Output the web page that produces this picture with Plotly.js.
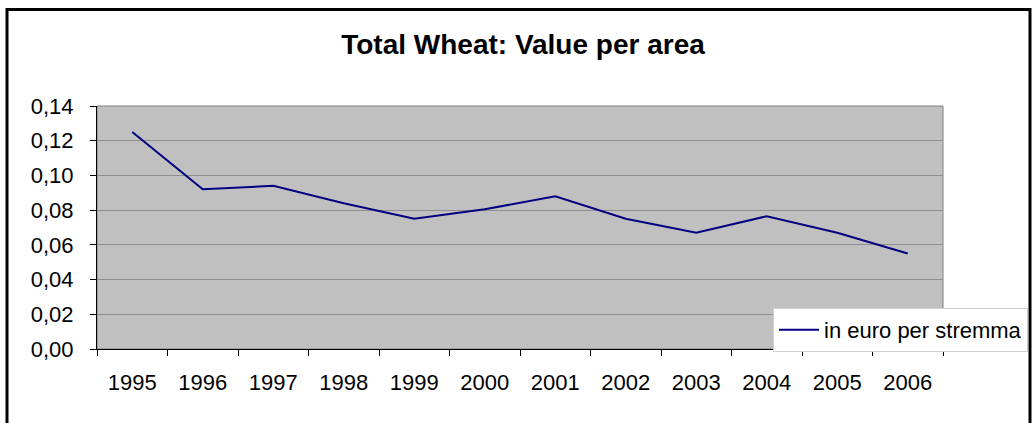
<!DOCTYPE html>
<html>
<head>
<meta charset="utf-8">
<script src="https://cdn.plot.ly/plotly-3.0.1.min.js"></script>
<style>
  html, body { margin: 0; padding: 0; background: #ffffff; }
  #chart { width: 1032px; height: 423px; }
</style>
</head>
<body>
<div id="chart"></div>
<script>
// ---- data ----
const years = ["1995","1996","1997","1998","1999","2000","2001","2002","2003","2004","2005","2006"];
const valuePerArea = [0.125, 0.092, 0.094, 0.084, 0.075, 0.0805, 0.088, 0.075, 0.067, 0.0765, 0.067, 0.055];
const seriesName = "in euro per stremma";
const chartTitle = "Total Wheat: Value per area";
const yTicks = [0, 0.02, 0.04, 0.06, 0.08, 0.10, 0.12, 0.14];

const FONT = "Liberation Sans, Arial, sans-serif";

const trace = {
  x: years,
  y: valuePerArea,
  type: "scatter",
  mode: "lines",
  name: seriesName,
  line: { color: "#000080", width: 2 },
  showlegend: true,
  hoverinfo: "x+y"
};

const layout = {
  width: 1032,
  height: 423,
  separators: ",.",
  paper_bgcolor: "#ffffff",
  plot_bgcolor: "#c0c0c0",
  margin: { l: 97, r: 89, t: 106, b: 74, autoexpand: false },
  font: { family: FONT, color: "#000000", size: 22 },
  title: {
    text: chartTitle,
    font: { family: FONT, size: 28, weight: "bold", color: "#000000" },
    x: (523 - 97) / 846, xanchor: "center",
    y: 1 - 44 / 423, yanchor: "middle",
    xref: "paper", yref: "container"
  },
  xaxis: {
    type: "category",
    range: [-0.5, 11.5],
    tickson: "boundaries",
    ticks: "outside",
    ticklen: 6,
    tickcolor: "#000000",
    tickwidth: 1,
    showgrid: false,
    showline: true,
    linecolor: "#000000",
    linewidth: 1,
    zeroline: false,
    ticklabelstandoff: 14,
    tickfont: { family: FONT, size: 22, color: "#000000" },
    fixedrange: true
  },
  yaxis: {
    range: [0, 0.14],
    tickvals: yTicks,
    tickformat: ".2f",
    ticks: "outside",
    ticklen: 6,
    tickcolor: "#000000",
    tickwidth: 1,
    showgrid: true,
    gridcolor: "#8f8f8f",
    gridwidth: 1,
    showline: true,
    linecolor: "#000000",
    linewidth: 1,
    zeroline: false,
    ticklabelstandoff: 12,
    tickfont: { family: FONT, size: 22, color: "#000000" },
    fixedrange: true
  },
  showlegend: true,
  legend: {
    x: (773 - 97) / 846,
    xanchor: "left",
    y: (349 - 308) / 243.3,
    yanchor: "top",
    bgcolor: "#ffffff",
    bordercolor: "#d0d0d0",
    borderwidth: 1,
    font: { family: FONT, size: 22, color: "#000000" },
    itemwidth: 40
  },
  shapes: [
    // plot area border (top/right in gray)
    { type: "rect", xref: "paper", yref: "paper", x0: 0, x1: 1, y0: 0, y1: 1,
      line: { color: "#808080", width: 1 }, fillcolor: "rgba(0,0,0,0)", layer: "below" },
    // outer chart border
    { type: "rect", xref: "paper", yref: "paper",
      x0: (7 - 97) / 846, x1: (1030 - 97) / 846,
      y0: (349 - 440) / 243.3, y1: (349 - 9) / 243.3,
      line: { color: "#000000", width: 3 }, fillcolor: "rgba(0,0,0,0)", layer: "above" }
  ]
};

Plotly.newPlot("chart", [trace], layout, { displayModeBar: false, staticPlot: true });
</script>
</body>
</html>
